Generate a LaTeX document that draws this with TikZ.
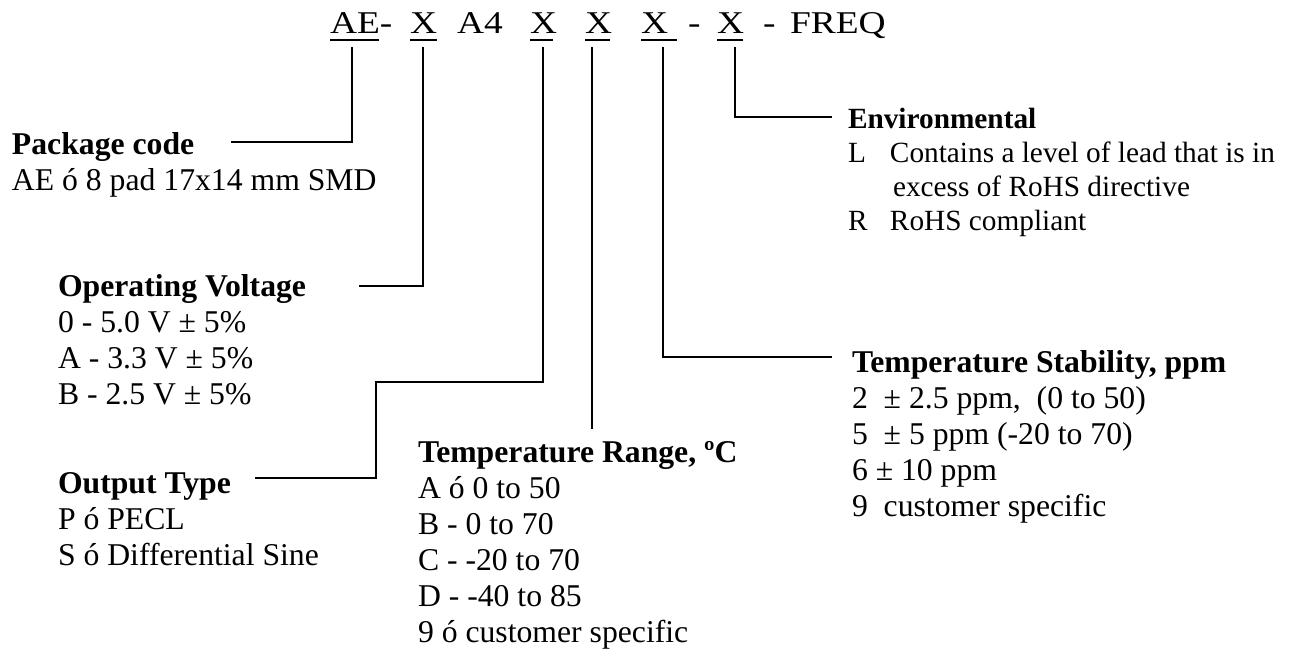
\documentclass[tikz,border=0pt]{standalone}
\usepackage{fontspec}
\setmainfont{Liberation Serif}
\usepackage{graphicx}
\newcommand{\hsx}[1]{\scalebox{1.18}[1]{#1}}
\begin{document}
\begin{tikzpicture}[x=1pt,y=-1pt,
  txt/.style={anchor=base west,inner sep=0pt,outer sep=0pt,align=left,font=\fontsize{31.7}{36}\selectfont},
  hdr/.style={anchor=base west,inner sep=0pt,outer sep=0pt,font=\fontsize{31.7}{36}\selectfont},
  conn/.style={line width=2pt},
  uline/.style={line width=2pt}]
\useasboundingbox (0,0) rectangle (1290,659);
% header
\node[hdr] (hAE) at (330,33) {\hsx{AE-}};
\node[hdr] (hX1) at (410,33) {\hsx{X}};
\node[hdr] (hA4) at (457,33) {\hsx{A4}};
\node[hdr] (hX2) at (530,33) {\hsx{X}};
\node[hdr] (hX3) at (585,33) {\hsx{X}};
\node[hdr] (hX4) at (641,33) {\hsx{X}};
\node[hdr] (hD1) at (688,33) {\hsx{-}};
\node[hdr] (hX5) at (717,33) {\hsx{X}};
\node[hdr] (hD2) at (763,33) {\hsx{-}};
\node[hdr] (hFR) at (790,33) {\hsx{FREQ}};
% underlines
\draw[uline] (hAE.base west) ++(0,7) -- ++(49,0);
\draw[uline] (hX1.base west) ++(0,7) -- ++(27,0);
\draw[uline] (hX2.base west) ++(0,7) -- ++(23,0);
\draw[uline] (hX3.base west) ++(0,7) -- ++(25,0);
\draw[uline] (hX4.base west) ++(0,7) -- ++(36,0);
\draw[uline] (hX5.base west) ++(0,7) -- ++(26,0);
% text blocks (anchor = baseline of last line)
\node[txt] (pc) at (12,190) {\textbf{Package code}\\AE ó 8 pad 17x14 mm SMD};
\node[txt] (ov) at (58,404) {\textbf{Operating Voltage}\\0 - 5.0 V ± 5\%\\A - 3.3 V ± 5\%\\B - 2.5 V ± 5\%};
\node[txt] (ot) at (58,565) {\textbf{Output Type}\\P ó PECL\\S ó Differential Sine};
\node[txt] (tr) at (418,642) {\textbf{Temperature Range, ºC}\\A ó 0 to 50\\B - 0 to 70\\C - -20 to 70\\D - -40 to 85\\9 ó customer specific};
\node[txt] (ts) at (852,516) {\textbf{Temperature Stability, ppm}\\2\ \ ± 2.5 ppm,\ \ (0 to 50)\\5\ \ ± 5 ppm (-20 to 70)\\6 ± 10 ppm\\9\ \ customer specific};
\node[txt,font=\fontsize{29.3}{34}\selectfont] (en) at (848,230) {\textbf{Environmental}\\\makebox[42pt][l]{L}Contains a level of lead that is in\\\hspace*{45pt}excess of RoHS directive\\\makebox[42pt][l]{R}RoHS compliant};
% connectors
\coordinate (tAE) at (352,47); \coordinate (ePC) at (231,142);
\coordinate (tV) at (423,47);  \coordinate (eV) at (359,286);
\coordinate (tO) at (543,47);  \coordinate (kO) at (376,382); \coordinate (eO) at (255,478);
\coordinate (tR) at (592,47);  \coordinate (eR) at (592,429);
\coordinate (tS) at (663,47);  \coordinate (eS) at (832,357);
\coordinate (tE) at (735,47);  \coordinate (eE) at (832,117);
\draw[conn] (tAE) |- (ePC);
\draw[conn] (tV) |- (eV);
\draw[conn] (tO) |- (kO) |- (eO);
\draw[conn] (tR) -- (eR);
\draw[conn] (tS) |- (eS);
\draw[conn] (tE) |- (eE);
\end{tikzpicture}
\end{document}
